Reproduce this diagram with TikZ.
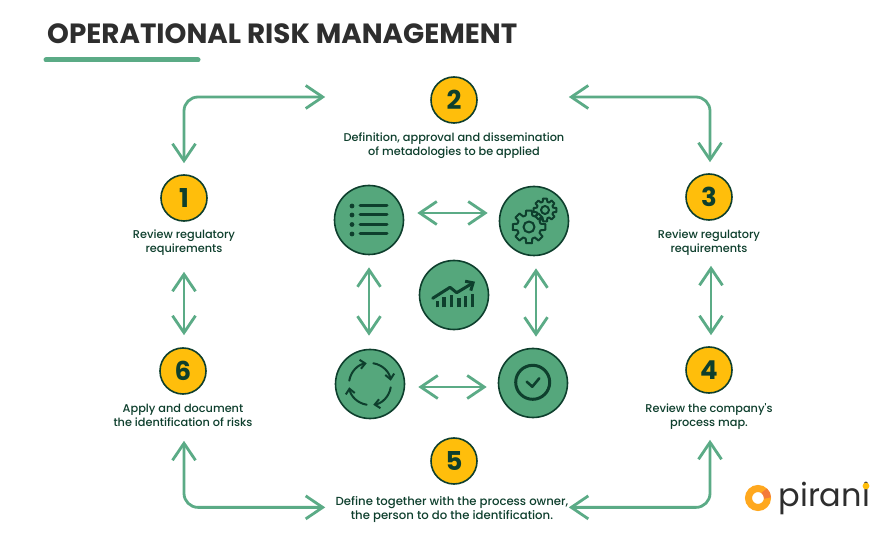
\documentclass[tikz,border=0pt]{standalone}
\usepackage{fontspec}
\setmainfont{Poppins}
\newfontfamily\labfont{Poppins Medium}
\usetikzlibrary{positioning,arrows.meta}
\definecolor{flow}{HTML}{5BAB86}
\definecolor{leaf}{HTML}{55A77C}
\definecolor{pine}{HTML}{0E3F2D}
\definecolor{sun}{HTML}{FFBE0B}
\definecolor{ink}{HTML}{2E2E2E}
\definecolor{ringc}{HTML}{FFA81E}
\definecolor{ringr}{HTML}{F47A3A}
\tikzset{
  twoway/.style={draw=flow,line width=2.8pt,rounded corners=14pt,
    {Straight Barb[length=17pt,width=23pt]}-{Straight Barb[length=17pt,width=23pt]}},
  numc/.style={circle,draw=pine,line width=1.6pt,fill=sun,minimum size=46pt,inner sep=0pt,
    text=pine,font=\fontsize{26}{26}\selectfont\bfseries},
  iconc/.style={circle,draw=pine,line width=1.6pt,fill=leaf,minimum size=69pt,inner sep=0pt},
  lab/.style={align=center,text=pine,font=\labfont\fontsize{11.3}{14}\selectfont},
  glyph/.style={draw=pine,line width=2pt,line cap=round,line join=round},
  barbed/.style={glyph,-{Straight Barb[length=5pt,width=9pt]}}
}
\newcommand{\gearicon}[2]{%
  \foreach \a in {0,45,...,315}
    \draw[glyph] (\a-10:#1) -- (\a+10:#1) -- (\a+16:#2) -- (\a+29:#2) -- (\a+35:#1);
}
\begin{document}
\begin{tikzpicture}[x=1pt,y=-1pt,node distance=8pt]
    \path[use as bounding box,fill=white] (0,0) rectangle (889,545);
    \node[anchor=west,inner sep=0pt,text=ink,font=\fontsize{27.8}{28}\selectfont\bfseries] (title) at (47,34) {OPERATIONAL RISK MANAGEMENT};
    \coordinate (ruleL) at (46,60);
    \coordinate (ruleR) at (198,60);
    \draw[flow,line width=5pt,line cap=round] (ruleL) -- (ruleR);

    \node[numc] (n1) at (184,198) {1};
    \node[numc] (n2) at (454,100) {2};
    \node[numc] (n3) at (709,197) {3};
    \node[numc] (n4) at (709,370) {4};
    \node[numc] (n5) at (454,461) {5};
    \node[numc] (n6) at (183,371) {6};
    \node[lab,below=4pt of n1] (t1) {Review regulatory\\requirements};
    \node[lab,below=5pt of n2] (t2) {Definition, approval and dissemination\\of metadologies to be applied};
    \node[lab,below=5pt of n3] (t3) {Review regulatory\\requirements};
    \node[lab,below=6pt of n4] (t4) {Review the company's\\process map.};
    \node[lab,below=8pt of n5,xshift=-2pt,font=\labfont\fontsize{11.7}{14}\selectfont] (t5) {Define together with the process owner,\\the person to do the identification.};
    \node[lab,below=6pt of n6] (t6) {Apply and document\\the identification of risks};

    \node[iconc] (list) at (369,220) {};
    \node[iconc] (gears) at (534,221) {};
    \node[iconc] (chart) at (454,295) {};
    \node[iconc] (cycle) at (370,384) {};
    \node[iconc] (check) at (533,383) {};

    \draw[twoway,shorten <=11pt,shorten >=105pt] (n1.north) |- ([yshift=3pt]n2.west);
    \draw[twoway,shorten <=91pt,shorten >=11pt] ([yshift=3pt]n2.east) -| ([xshift=1pt]n3.north);
    \draw[twoway,shorten <=50pt,shorten >=12pt] (n1.south) -- (n1.south |- n6.north);
    \draw[twoway,shorten <=45pt,shorten >=11pt] ([xshift=2pt]n3.south) -- ([xshift=2pt]n4.north);
    \draw[twoway,shorten <=46pt,shorten >=105pt] (n6.south -| n1) |- ([yshift=2pt]n5.west |- t5.west);
    \draw[twoway,shorten <=91pt,shorten >=46pt] ([yshift=2pt]n5.east |- t5.east) -| ([xshift=1pt]n4.south);

    \draw[twoway,shorten <=13pt,shorten >=11pt] ([yshift=7pt]list.east) -- ([yshift=7pt]list.east -| gears.west);
    \draw[twoway,shorten <=13pt,shorten >=11pt] ([yshift=-3pt]cycle.east) -- ([yshift=-3pt]cycle.east -| check.west);
    \draw[twoway,shorten <=12pt,shorten >=13pt] (list.south) -- (list.south |- cycle.north);
    \draw[twoway,shorten <=12pt,shorten >=11pt] ([xshift=2pt]gears.south) -- ([xshift=2pt]gears.south |- check.north);

    % list
    \foreach \y in {206,215,224.5,234} {
      \fill[pine] (352,\y) circle (2.4);
      \draw[glyph,line width=3pt] (360,\y) -- (387,\y);
    }
    % gears
    \begin{scope}[shift={(529,227)}]
      \gearicon{16.5}{12}
      \draw[glyph] (0,0) circle (5.5);
    \end{scope}
    \begin{scope}[shift={(545,210)}]
      \gearicon{11.5}{8.5}
      \draw[glyph] (0,0) circle (4);
    \end{scope}
    % chart
    \foreach \x/\y in {437.3/300.7,444/297.3,451.3/295,459/298.3,465.7/296,472.3/294}
      \draw[pine,line width=3.4pt] (\x,307.3) -- (\x,\y);
    \draw[barbed,line width=3pt,-{Straight Barb[length=6pt,width=11pt]}] (432.7,298.3) -- (450,287.3) -- (456.7,292.7) -- (475,281.7);
    % cycle
    \foreach \a in {-81,9,99,189}
      \draw[barbed] (370,384) ++(\a:21) arc[start angle=\a,delta angle=72,radius=21];
    % check
    \draw[glyph,line width=3pt] (532.7,382.3) circle (17);
    \draw[glyph,line width=2.6pt] (526.7,381.7) -- (532.3,386.7) -- (539.3,378.3);

    % logo
    \node[circle,draw=ringc,line width=7pt,minimum size=19pt,inner sep=0pt] (ring) at (758,498) {};
    \draw[ringr,line width=7pt] (758,498) ++(-50:9.5) arc[start angle=-50,delta angle=50,radius=9.5];
    \node[text=ink,font=\fontsize{32}{32}\selectfont,right=4pt of ring] (pirani) {pirani};
    \fill[sun] (866,486) circle (3.4);
\end{tikzpicture}
\end{document}
